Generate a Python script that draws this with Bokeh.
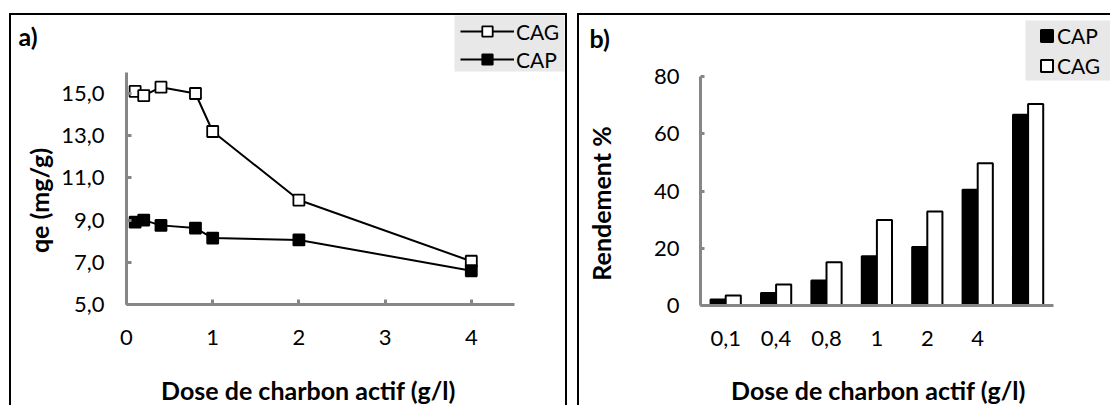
import math
from bokeh.plotting import figure
from bokeh.layouts import row
from bokeh.models import (Range1d, FixedTicker, Legend, LegendItem, Label, BoxAnnotation,
                          ColumnDataSource)
from bokeh.transform import dodge
from bokeh.embed import file_html
from bokeh.resources import INLINE

FONT = "Lato"

# ---------------- data: panel a) ----------------
dose = [0.1, 0.2, 0.4, 0.8, 1, 2, 4]
qe_cag = [15.1, 14.9, 15.3, 15.0, 13.2, 9.95, 7.05]
qe_cap = [8.9, 9.0, 8.75, 8.62, 8.15, 8.06, 6.6]
qe_ticks = [5, 7, 9, 11, 13, 15]
qe_tick_labels = ["5,0", "7,0", "9,0", "11,0", "13,0", "15,0"]
dose_ticks = [0, 1, 2, 3, 4]

# ---------------- data: panel b) ----------------
bar_labels = ["0,1", "0,4", "0,8", "1", "2", "4", ""]
rend_cap = [2.1, 4.4, 8.7, 17.2, 20.4, 40.4, 66.6]
rend_cag = [3.5, 7.3, 15.1, 29.9, 32.8, 49.7, 70.4]
rend_ticks = [0, 20, 40, 60, 80]

x_title = "Dose de charbon actif (g/l)"

H = 392
AXIS_GRAY = "#868686"
LEG_BG = "#e8e8e8"


def style_axis(ax, tick_in=5):
    ax.axis_line_color = AXIS_GRAY
    ax.axis_line_width = 3
    ax.major_tick_line_color = AXIS_GRAY
    ax.major_tick_line_width = 3
    ax.major_tick_in = tick_in
    ax.major_tick_out = 0
    ax.minor_tick_line_color = None
    ax.major_label_text_font = FONT
    ax.major_label_text_font_size = "22px"
    ax.major_label_text_color = "black"


def prep(p):
    p.outline_line_color = None
    p.grid.visible = False
    p.background_fill_color = None
    p.border_fill_color = None


class PixelMap:
    """Page-pixel layout helper for one panel (canvas origin + axis scale)."""
    def __init__(self, ox, oy, w, h, x0_px, xref, px_x, y0_px, yref, px_y):
        self.ox, self.oy, self.w, self.h = ox, oy, w, h
        self.x0_px, self.xref, self.px_x = x0_px, xref, px_x
        self.y0_px, self.yref, self.px_y = y0_px, yref, px_y

    def x(self, sx):
        return self.xref + (sx - self.x0_px) / self.px_x

    def y(self, sy):
        return self.yref + (self.y0_px - sy) / self.px_y

    def x_range(self):
        return Range1d(self.x(self.ox), self.x(self.ox + self.w))

    def y_range(self):
        return Range1d(self.y(self.oy + self.h), self.y(self.oy))


def text_label(m, sx, sy, text, align="center", angle=0.0):
    return Label(x=m.x(sx), y=m.y(sy), text=text, angle=angle,
                 text_font=FONT, text_font_style="bold", text_font_size="25px",
                 text_align=align, text_baseline="middle", text_color="black")


def legend_bg(m, left, right, top, bottom):
    return BoxAnnotation(left=m.x(left), right=m.x(right), top=m.y(top), bottom=m.y(bottom),
                         fill_color=LEG_BG, fill_alpha=1, line_color=None)


# ================= panel a) =================
W1 = 558
ma = PixelMap(ox=9, oy=13, w=W1, h=H, x0_px=126, xref=0, px_x=86.2,
              y0_px=304, yref=5, px_y=21.1)

pa = figure(width=W1, height=H, output_backend="svg", toolbar_location=None, title=None,
            x_range=ma.x_range(), y_range=ma.y_range(), min_border=0,
            margin=(13, 0, 0, 9),
            styles={"box-shadow": "inset 2px 2px 0 0 #000, inset -2px 0 0 0 #000"})
prep(pa)

pa.add_layout(legend_bg(ma, 454, 564, 15, 71))

src_a = ColumnDataSource(dict(dose=dose, cag=qe_cag, cap=qe_cap))
l_cag = pa.line("dose", "cag", source=src_a, line_color="black", line_width=2)
s_cag = pa.scatter("dose", "cag", source=src_a, marker="square", size=11,
                   fill_color="white", line_color="black", line_width=1.8)
l_cap = pa.line("dose", "cap", source=src_a, line_color="black", line_width=2)
s_cap = pa.scatter("dose", "cap", source=src_a, marker="square", size=11,
                   fill_color="black", line_color="black", line_width=1.8)

xa = pa.xaxis[0]
ya = pa.yaxis[0]
style_axis(xa)
style_axis(ya)
xa.fixed_location = 5
xa.ticker = FixedTicker(ticks=dose_ticks)
xa.bounds = (0, 4.5)
xa.major_label_standoff = 25
ya.fixed_location = 0
ya.ticker = FixedTicker(ticks=qe_ticks)
ya.major_label_overrides = {t: l for t, l in zip(qe_ticks, qe_tick_labels)}
ya.bounds = (5, 16)
ya.major_label_standoff = 22

leg_a = Legend(items=[LegendItem(label="CAG", renderers=[l_cag, s_cag]),
                      LegendItem(label="CAP", renderers=[l_cap, s_cap])],
               location=(460 - ma.ox, ma.oy + H - 72), margin=0, padding=2, spacing=2,
               glyph_width=54, glyph_height=26, label_standoff=2,
               background_fill_alpha=0, border_line_color=None,
               label_text_font=FONT, label_text_font_size="21px", label_text_color="black")
pa.add_layout(leg_a)

pa.add_layout(text_label(ma, 308, 389, x_title))
pa.add_layout(text_label(ma, 38, 200, "qe (mg/g)", angle=math.pi / 2))
pa.add_layout(text_label(ma, 18, 35, "a)", align="left"))

# ================= panel b) =================
W2 = 533
mb = PixelMap(ox=577, oy=13, w=W2, h=H, x0_px=700, xref=0, px_x=50.4,
              y0_px=305, yref=0, px_y=2.8625)

pb = figure(width=W2, height=H, output_backend="svg", toolbar_location=None, title=None,
            x_range=mb.x_range(), y_range=mb.y_range(), min_border=0,
            margin=(13, 0, 0, 10),
            styles={"box-shadow": "inset 2px 2px 0 0 #000"})
prep(pb)

pb.add_layout(legend_bg(mb, 1025, 1110, 20, 80))

centers = [i + 0.5 for i in range(len(bar_labels))]
src_b = ColumnDataSource(dict(x=centers, cap=rend_cap, cag=rend_cag))
b_cap = pb.vbar(x=dodge("x", -0.15, range=pb.x_range), top="cap", width=0.3, source=src_b,
                fill_color="black", line_color="black", line_width=2)
b_cag = pb.vbar(x=dodge("x", 0.15, range=pb.x_range), top="cag", width=0.3, source=src_b,
                fill_color="white", line_color="black", line_width=2)

xb = pb.xaxis[0]
yb = pb.yaxis[0]
style_axis(xb, tick_in=0)
style_axis(yb, tick_in=4)
xb.fixed_location = 0
xb.major_tick_line_color = None
xb.ticker = FixedTicker(ticks=[c for c, l in zip(centers, bar_labels) if l])
xb.major_label_overrides = {c: l for c, l in zip(centers, bar_labels) if l}
xb.bounds = (0, len(bar_labels))
xb.major_label_standoff = 25
yb.fixed_location = 0
yb.ticker = FixedTicker(ticks=rend_ticks)
yb.bounds = (0, 80)
yb.major_label_standoff = 21

leg_b = Legend(items=[LegendItem(label="CAP", renderers=[b_cap]),
                      LegendItem(label="CAG", renderers=[b_cag])],
               location=(1039 - mb.ox, mb.oy + H - 78), margin=0, padding=3, spacing=4,
               glyph_width=15, glyph_height=15, label_height=26, label_standoff=3,
               background_fill_alpha=0, border_line_color=None,
               label_text_font=FONT, label_text_font_size="21px", label_text_color="black")
pb.add_layout(leg_b)

pb.add_layout(text_label(mb, 878, 389, x_title))
pb.add_layout(text_label(mb, 600, 203, "Rendement %", angle=math.pi / 2))
pb.add_layout(text_label(mb, 589, 37, "b)", align="left"))

layout = row(pa, pb)
open("out.html", "w").write(file_html(layout, INLINE))
